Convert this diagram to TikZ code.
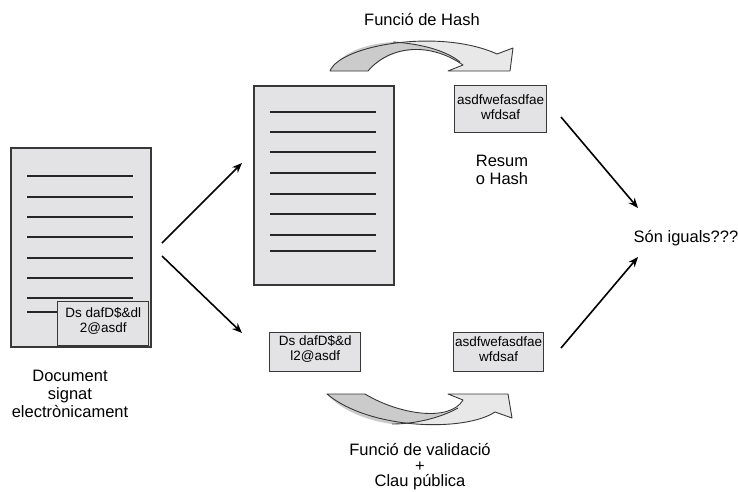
\documentclass[tikz,border=0pt]{standalone}
\usepackage{fontspec}
\setmainfont{Liberation Sans}
\usetikzlibrary{arrows.meta}
\definecolor{paper}{HTML}{E3E3E5}
\definecolor{edge}{HTML}{383838}
\definecolor{bandlight}{HTML}{E8E8E8}
\definecolor{banddark}{HTML}{CBCBCB}

\begin{document}
\begin{tikzpicture}[x=1pt,y=-1pt,
  sheet/.style={draw=edge, line width=1.6pt, fill=paper, inner sep=0pt,
                minimum width=140pt, minimum height=199pt, anchor=north west},
  ruled/.style={line width=1.3pt, draw=black!85},
  databox/.style={draw=edge, line width=1.4pt, fill=paper, inner sep=0pt, anchor=north west},
  boxtext/.style={align=center, inner sep=0pt, font=\fontsize{13.5}{15}\selectfont},
  caption/.style={align=center, inner sep=0pt, font=\fontsize{16.5}{18}\selectfont},
  flow/.style={line width=1.6pt, -{Stealth[length=10pt,width=8pt]}},
  bandfill/.style={fill=bandlight},
  bandline/.style={draw=edge, line width=0.9pt, line join=round},
]
\useasboundingbox (0,0) rectangle (738,491);

% ---- signed document (left) ----
\node[sheet] (signed) at (10,147) {};
\foreach \y in {176,197,217,237,258,278,298,312}
  \draw[ruled] (27,\y) -- (133,\y);
\node[databox, minimum width=91pt, minimum height=44pt] (sigA) at (57,301) {};
\node[boxtext] (sigAtext) at ([yshift=3pt]sigA.center) {Ds dafD\$\&dl\\2@asdf};

% ---- plain document (top) ----
\node[sheet] (plain) at (253,85) {};
\foreach \y in {112,132,152,173,194,214,235,251}
  \draw[ruled] (270,\y) -- (376,\y);

% ---- digest of the document ----
\node[databox, minimum width=92pt, minimum height=47pt] (hashA) at (454,85) {};
\node[boxtext] (hashAtext) at ([yshift=2.5pt]hashA.center) {asdfwefasdfae\\wfdsaf};

% ---- detached signature and recovered digest (bottom) ----
\node[databox, minimum width=91pt, minimum height=39pt] (sigB) at (269,332) {};
\node[boxtext] (sigBtext) at ([yshift=3pt]sigB.center) {Ds dafD\$\&d\\l2@asdf};
\node[databox, minimum width=90pt, minimum height=39pt] (hashB) at (453,332) {};
\node[boxtext] (hashBtext) at ([yshift=3pt]hashB.center) {asdfwefasdfae\\wfdsaf};

% ---- captions ----
\node[caption, anchor=base] (hashfn) at (422,25) {Funció de Hash};
\node[caption] (digest) at (502,170) {Resum\\o Hash};
\node[caption, anchor=base] (compare) at (686,242) {Són iguals???};
\node[caption] (doclabel) at (70,394) {Document\\signat\\electrònicament};
\node[caption, font=\fontsize{16.5}{15.5}\selectfont] (verify) at (420,467) {Funció de validació\\+\\Clau pública};

% ---- hash function arrow (top) ----
\path[bandfill] (330,71) .. controls (340,45) and (440,28) .. (497,54)
  -- (513,48) -- (510,71) -- (448,71) -- (463,65)
  .. controls (430,42) and (390,45) .. (368,71) -- cycle;
\fill[banddark] (330,71) .. controls (342,52) and (365,44) .. (393,42)
  .. controls (425,44) and (448,52) .. (460,62)
  .. controls (430,43) and (392,46) .. (368,71) -- cycle;
\draw[bandline] (393,42) .. controls (425,44) and (448,52) .. (460,62);
\draw[bandline] (330,71) .. controls (340,45) and (440,28) .. (497,54)
  -- (513,48) -- (510,71) -- (448,71) -- (463,65)
  .. controls (430,42) and (390,45) .. (368,71) -- cycle;

% ---- validation arrow (bottom) ----
\path[bandfill] (327,394) -- (365,394)
  .. controls (400,415) and (450,422) .. (463,400)
  -- (448,394) -- (508,394) -- (512,418) -- (495,412)
  .. controls (465,432) and (370,430) .. (327,394) -- cycle;
\fill[banddark] (327,394) -- (365,394)
  .. controls (398,414) and (440,420) .. (458,408)
  .. controls (440,418) and (415,424) .. (392,424)
  .. controls (368,421) and (340,410) .. (327,394) -- cycle;
\draw[bandline] (458,408) .. controls (440,418) and (415,424) .. (392,424);
\draw[bandline] (327,394) -- (365,394)
  .. controls (400,415) and (450,422) .. (463,400)
  -- (448,394) -- (508,394) -- (512,418) -- (495,412)
  .. controls (465,432) and (370,430) .. (327,394) -- cycle;

% ---- connectors ----
\coordinate (outUp) at (162,243);
\coordinate (inPlain) at (242,163);
\coordinate (outDown) at (162,256);
\coordinate (inSig) at (242,333);
\coordinate (outHashA) at (561,117);
\coordinate (inCmpA) at (638,208);
\coordinate (outHashB) at (561,348);
\coordinate (inCmpB) at (638,257);
\draw[flow] (outUp) -- (inPlain);
\draw[flow] (outDown) -- (inSig);
\draw[flow] (outHashA) -- (inCmpA);
\draw[flow] (outHashB) -- (inCmpB);
\end{tikzpicture}
\end{document}
